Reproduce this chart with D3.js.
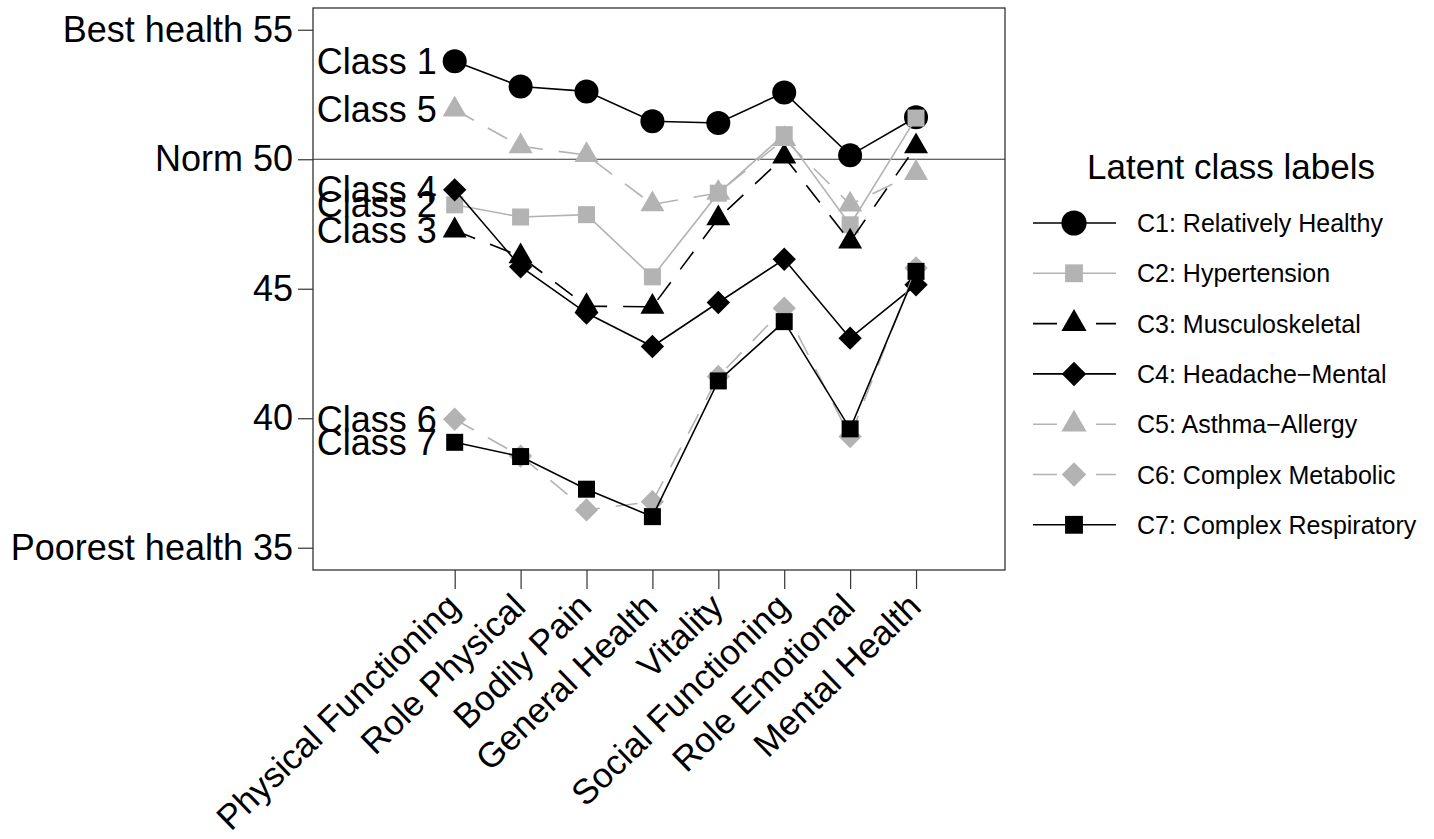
<!DOCTYPE html>
<html>
<head>
<meta charset="utf-8">
<script src="https://cdn.jsdelivr.net/npm/d3@7"></script>
<style>
  html, body { margin: 0; padding: 0; background: #fff; }
  svg text { font-family: "Liberation Sans", Arial, Helvetica, sans-serif; fill: #000; }
</style>
</head>
<body>
<div id="chart"></div>
<script>
// ── Data ────────────────────────────────────────
const DOMAINS = ["Physical Functioning","Role Physical","Bodily Pain","General Health",
                 "Vitality","Social Functioning","Role Emotional","Mental Health"];

const C1 = [53.78, 52.81, 52.62, 51.47, 51.40, 52.58, 50.15, 51.62];
const C2 = [48.24, 47.77, 47.86, 45.46, 48.69, 50.95, 47.47, 51.59];
const C3 = [47.25, 46.25, 44.33, 44.30, 47.72, 50.10, 46.82, 50.50];
const C4 = [48.82, 45.85, 44.06, 42.77, 44.47, 46.14, 43.09, 45.15];
const C5 = [51.92, 50.50, 50.16, 48.26, 48.70, 50.78, 48.25, 49.47];
const C6 = [39.96, 38.54, 36.46, 36.78, 41.61, 44.25, 39.29, 45.80];
const C7 = [39.07, 38.52, 37.26, 36.20, 41.44, 43.73, 39.59, 45.67];

const SERIES_NAMES = ["C1: Relatively Healthy","C2: Hypertension","C3: Musculoskeletal",
                      "C4: Headache\u2212Mental","C5: Asthma\u2212Allergy",
                      "C6: Complex Metabolic","C7: Complex Respiratory"];
const CLASS_LABELS = ["Class 1","Class 2","Class 3","Class 4","Class 5","Class 6","Class 7"];

const Y_TICKS  = [35, 40, 45, 50, 55];
const Y_LABELS = ["Poorest health 35", "40", "45", "Norm 50", "Best health 55"];

(function () {

  const W = 1434, H = 839;
  const BLACK = "#000000", GREY = "#b3b3b3";
  const FONT_BIG = "36px", FONT_X = "35px", FONT_TITLE = "35px", FONT_LEG = "25px";

  // style per class: colour, dashed?, marker shape
  const STYLE = [
    { color: BLACK, dash: false, shape: "circle"   },
    { color: GREY,  dash: false, shape: "square"   },
    { color: BLACK, dash: true,  shape: "triangle" },
    { color: BLACK, dash: false, shape: "diamond"  },
    { color: GREY,  dash: true,  shape: "triangle" },
    { color: GREY,  dash: true,  shape: "diamond"  },
    { color: BLACK, dash: false, shape: "square"   }
  ];
  const VALUES = [C1, C2, C3, C4, C5, C6, C7];

  const svg = d3.select("#chart").append("svg")
    .attr("width", W).attr("height", H);
  svg.append("rect").attr("width", W).attr("height", H).attr("fill", "#fff");

  // ── Scales ───────────────────────────────────
  const plot = { left: 313, right: 1005, top: 8, bottom: 570 };
  const xScale = d3.scaleLinear().domain([-1.15, 9.35]).range([plot.left, plot.right]);
  const yScale = d3.scaleLinear().domain([34.14, 55.84]).range([plot.bottom, plot.top]);

  // marker path for a shape, sized in pixels
  function markerPath(shape, k) {
    k = k || 1;
    if (shape === "circle")   return d3.symbol(d3.symbolCircle,   Math.PI * Math.pow(12 * k, 2))();
    if (shape === "square")   return d3.symbol(d3.symbolSquare,   Math.pow(17 * k, 2))();
    if (shape === "triangle") return d3.symbol(d3.symbolTriangle, Math.sqrt(3) / 4 * Math.pow(24 * k, 2))();
    return d3.symbol(d3.symbolSquare, Math.pow(16.5 * k, 2))();
  }

  // ── Box & norm line ──────────────────────────
  svg.append("rect")
    .attr("x", plot.left).attr("y", plot.top)
    .attr("width", plot.right - plot.left).attr("height", plot.bottom - plot.top)
    .attr("fill", "none").attr("stroke", "#333").attr("stroke-width", 1.3);

  svg.append("line")
    .attr("x1", plot.left).attr("x2", plot.right)
    .attr("y1", yScale(50)).attr("y2", yScale(50))
    .attr("stroke", "#333").attr("stroke-width", 1.1);

  // ── Y axis ───────────────────────────────────
  const yAxis = svg.append("g").attr("transform", `translate(${plot.left},0)`)
    .call(d3.axisLeft(yScale).tickValues(Y_TICKS).tickSize(15).tickPadding(5)
      .tickFormat((d, i) => Y_LABELS[i]));
  yAxis.select(".domain").remove();
  yAxis.selectAll(".tick line").attr("stroke", "#333").attr("stroke-width", 1.2);
  yAxis.selectAll("text").attr("font-size", FONT_BIG).attr("fill", "#000")
    .attr("font-family", "'Liberation Sans', Arial, sans-serif");

  // ── X axis ───────────────────────────────────
  const xAxis = svg.append("g").attr("transform", `translate(0,${plot.bottom})`)
    .call(d3.axisBottom(xScale).tickValues(d3.range(1, DOMAINS.length + 1))
      .tickSize(19).tickFormat(""));
  xAxis.select(".domain").remove();
  xAxis.selectAll(".tick line").attr("stroke", "#333").attr("stroke-width", 1.2);

  // slanted labels, baseline ending just right of each tick
  svg.append("g").selectAll("text").data(DOMAINS).join("text")
    .attr("transform", (d, i) => `translate(${xScale(i + 1) + 7},609) rotate(-44)`)
    .attr("text-anchor", "end")
    .attr("font-size", FONT_X)
    .text(d => d);

  // ── Series ───────────────────────────────────
  const line = d3.line().x((d, i) => xScale(i + 1)).y(d => yScale(d));

  VALUES.forEach((vals, s) => {
    const st = STYLE[s];
    const g = svg.append("g").attr("class", `series-${s + 1}`);
    g.append("path").datum(vals)
      .attr("d", line)
      .attr("fill", "none").attr("stroke", st.color).attr("stroke-width", 1.6)
      .attr("stroke-dasharray", st.dash ? "22,16" : null);
    g.selectAll("path.pt").data(vals).join("path")
      .attr("class", "pt")
      .attr("d", markerPath(st.shape))
      .attr("transform", (d, i) =>
        `translate(${xScale(i + 1)},${yScale(d)})` + (st.shape === "diamond" ? " rotate(45)" : ""))
      .attr("fill", st.color);
  });

  // ── Class labels at left end ─────────────────
  svg.append("g").selectAll("text").data(VALUES).join("text")
    .attr("x", xScale(1) - 18)
    .attr("y", d => yScale(d[0]))
    .attr("text-anchor", "end").attr("dominant-baseline", "central")
    .attr("font-size", FONT_BIG)
    .text((d, i) => CLASS_LABELS[i]);

  // ── Legend ───────────────────────────────────
  svg.append("text").attr("x", 1231).attr("y", 179)
    .attr("text-anchor", "middle").attr("font-size", FONT_TITLE)
    .text("Latent class labels");

  const legend = svg.append("g").attr("transform", "translate(1033,223)");
  SERIES_NAMES.forEach((name, i) => {
    const st = STYLE[i];
    const ly = i * 50.3;
    legend.append("line")
      .attr("x1", 0).attr("x2", 83).attr("y1", ly).attr("y2", ly)
      .attr("stroke", st.color).attr("stroke-width", 1.6)
      .attr("stroke-dasharray", st.dash ? "24,39" : null);
    legend.append("path")
      .attr("d", markerPath(st.shape, 1.05))
      .attr("transform", `translate(41,${ly})` + (st.shape === "diamond" ? " rotate(45)" : ""))
      .attr("fill", st.color);
    legend.append("text").attr("x", 104).attr("y", ly)
      .attr("dominant-baseline", "central").attr("font-size", FONT_LEG)
      .text(name);
  });

})();
</script>
</body>
</html>
